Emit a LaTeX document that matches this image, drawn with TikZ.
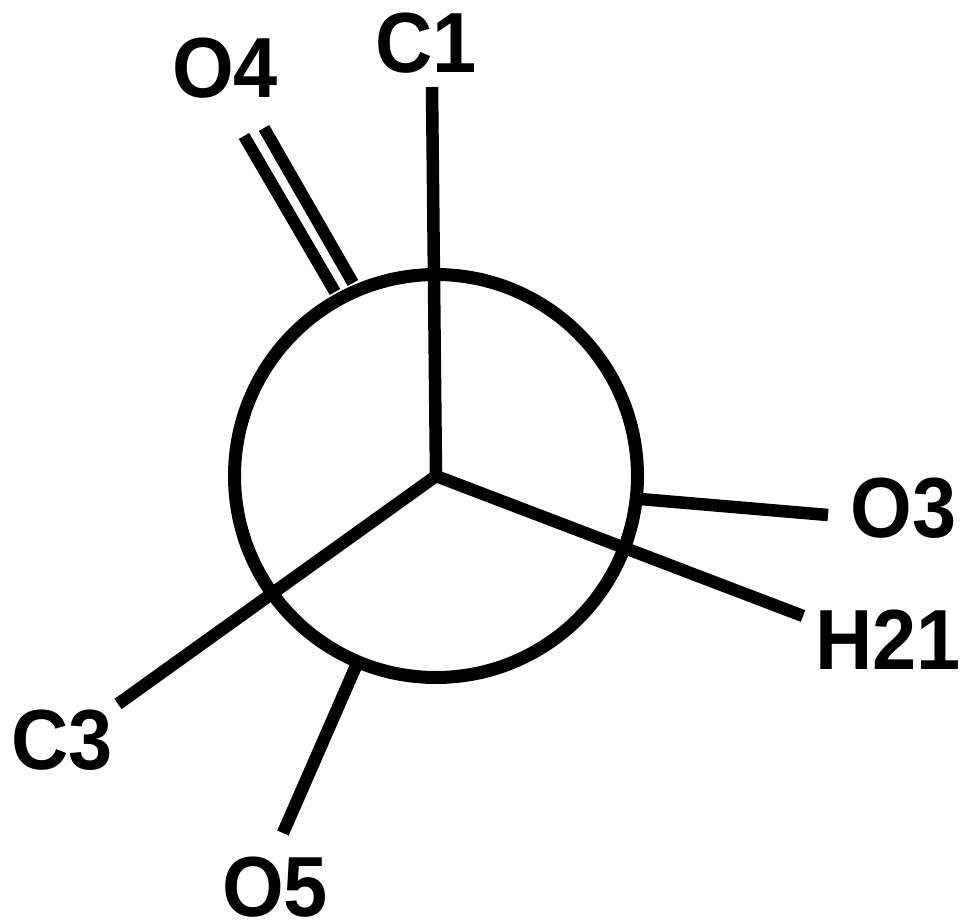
\documentclass[tikz,border=0pt]{standalone}
\usepackage{fontspec}
\setmainfont{Liberation Sans}[FakeStretch=0.93]
\tikzset{
 bond/.style={line width=12.5*0.75pt,line cap=butt,black},
 bond2/.style={line width=12*0.75pt,line cap=butt,black},
 lab/.style={font=\fontsize{64}{64}\selectfont\bfseries,inner sep=0pt,anchor=base}
}
\begin{document}
\begin{tikzpicture}[x=0.75pt,y=-0.75pt]
\useasboundingbox (0,0) rectangle (963,920);
\coordinate (c) at (436,476);
\node[circle,draw,line width=13*0.75pt,minimum size=403*0.75pt,inner sep=0pt] (ring) at (436,476) {};
\node[lab] (C1) at (426,73) {C1};
\node[lab] (O4) at (225,98) {O4};
\node[lab] (O3) at (903.5,537) {O3};
\node[lab] (H21) at (888,669) {H21};
\node[lab] (C3) at (62,769) {C3};
\node[lab] (O5) at (275,916) {O5};
\coordinate (eC1) at (432,87);
\coordinate (eC3) at (118,704);
\coordinate (eH) at (803,616);
\coordinate (eO5) at (283,833);
\coordinate (sO5) at (356,666);
\coordinate (sO3) at (640,499);
\coordinate (eO3) at (828,515);
\coordinate (dA) at (244,136);
\coordinate (dB) at (335,292);
\coordinate (dC) at (264,128);
\coordinate (dD) at (353,283);
\draw[bond] (eC1) -- (c);
\draw[bond,line join=miter] (eC3) -- (c) -- (eH);
\draw[bond] (sO5) -- (eO5);
\draw[bond] (sO3) -- (eO3);
\draw[bond2] (dA) -- (dB);
\draw[bond2] (dC) -- (dD);
\end{tikzpicture}
\end{document}
